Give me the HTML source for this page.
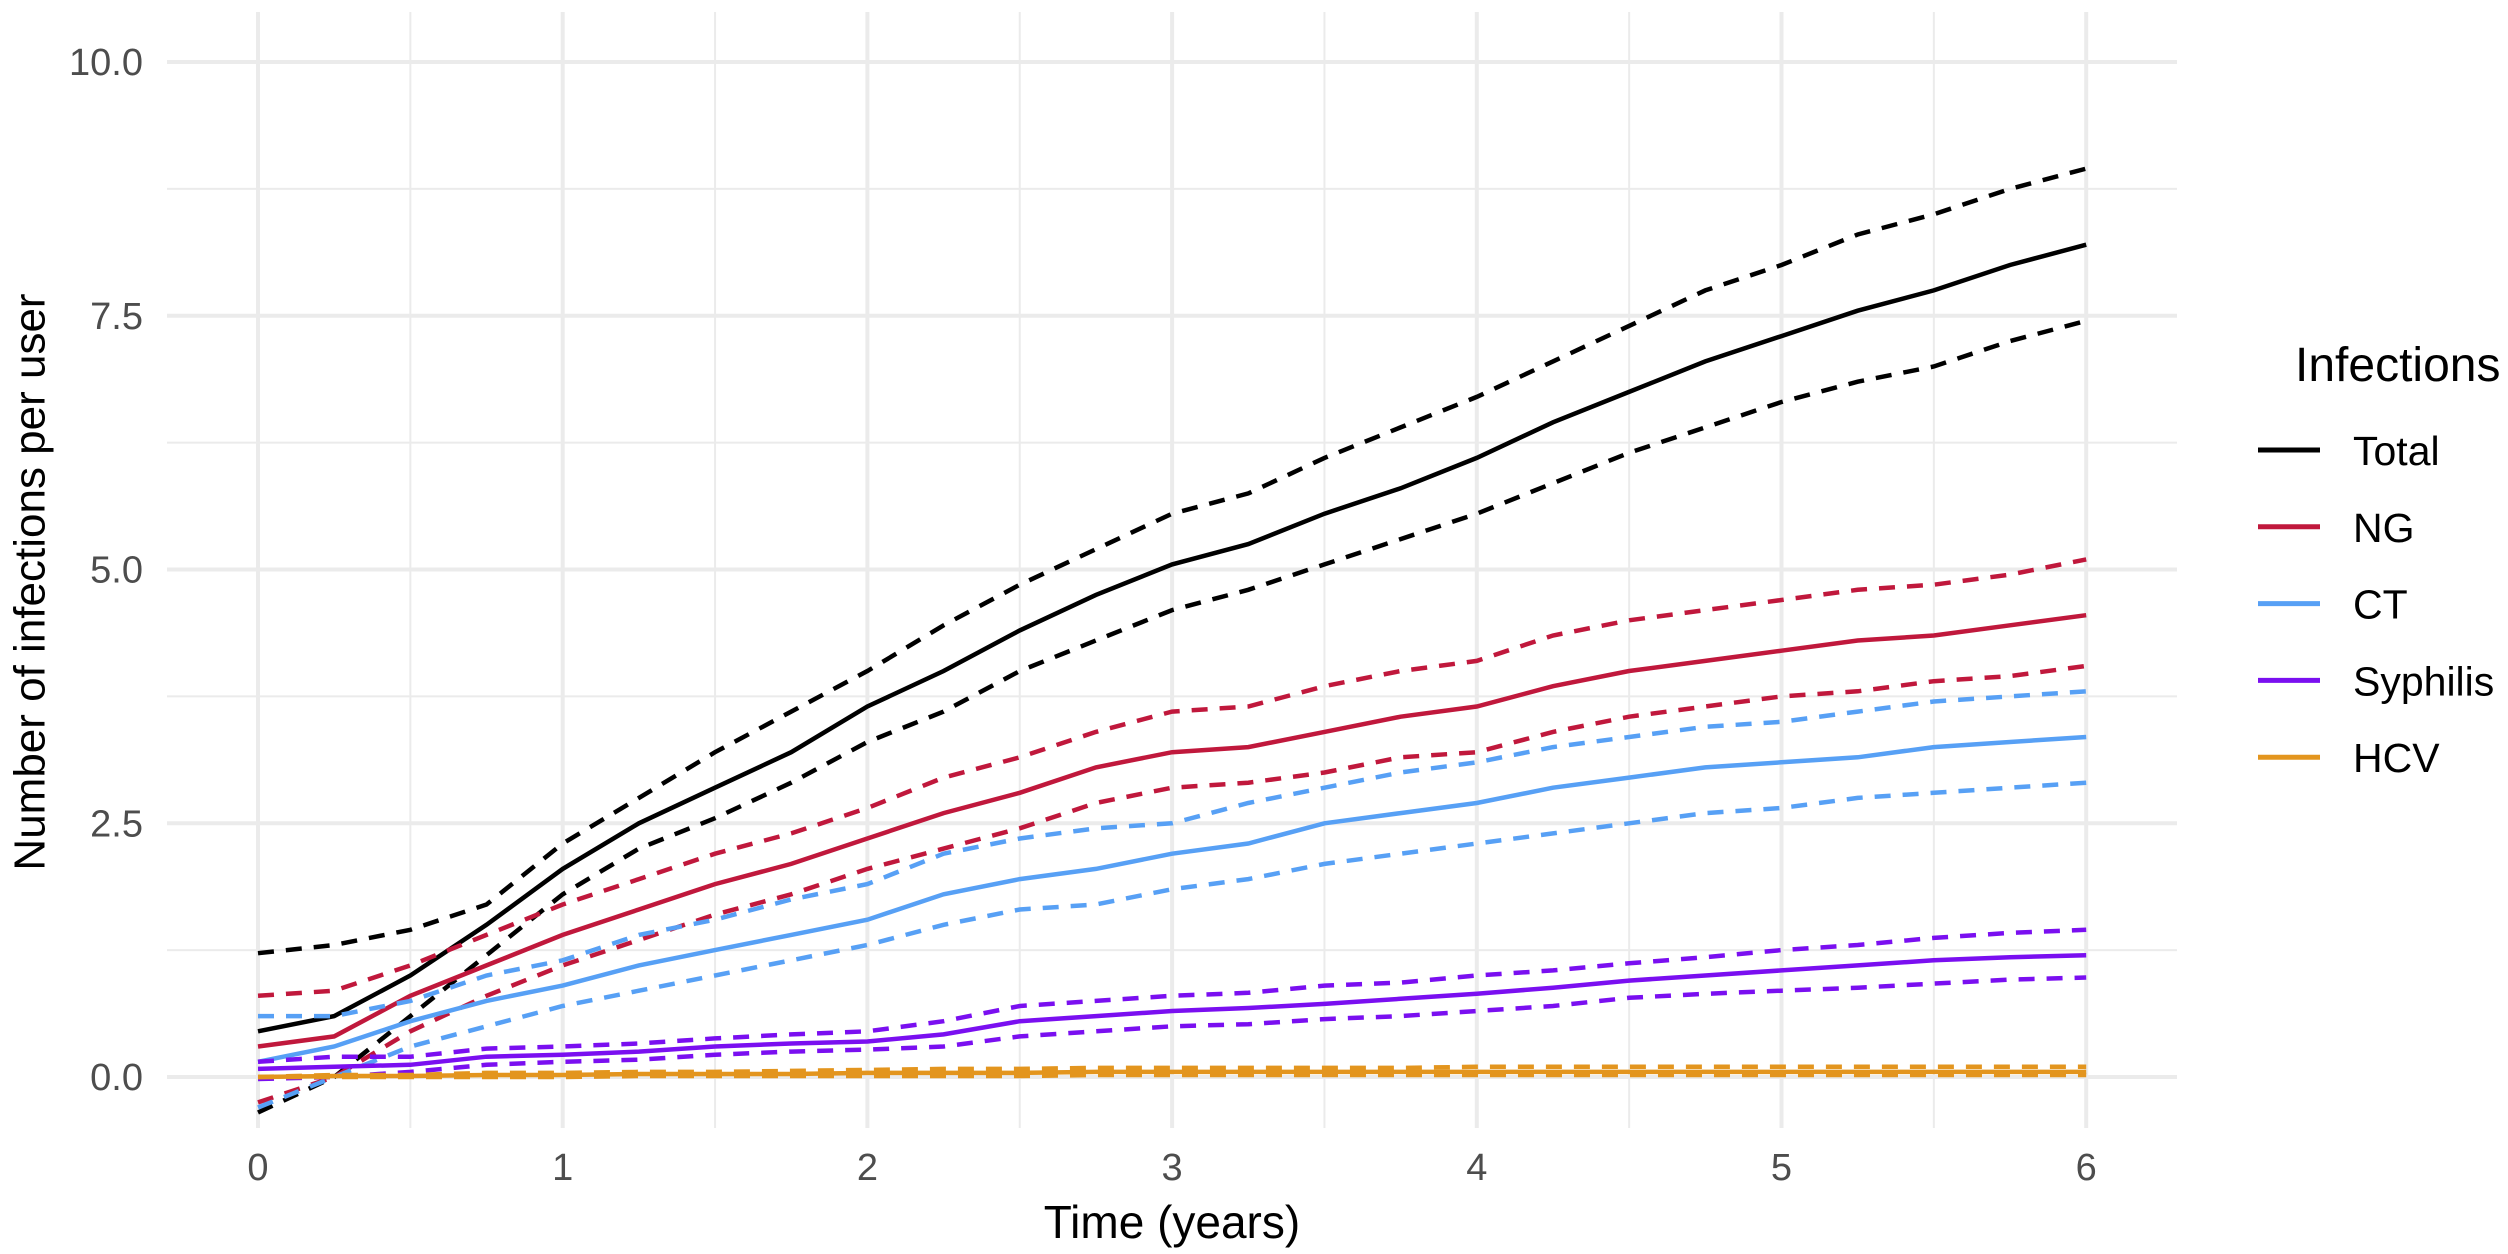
<!DOCTYPE html>
<html><head><meta charset="utf-8"><style>
html,body{margin:0;padding:0;background:#fff;}
svg{display:block;font-family:"Liberation Sans",Arial,sans-serif;}
</style></head><body>
<svg id="chart" width="2508" height="1254" viewBox="0 0 2508 1254" xmlns="http://www.w3.org/2000/svg">
<rect x="0" y="0" width="2508" height="1254" fill="#fff"/>
<g id="grid"></g>
<g id="series"></g>
<g id="axes"></g>
<text x="30" y="582" transform="rotate(-90 30 582)" text-anchor="middle" dominant-baseline="central" font-size="44" fill="#000">Number of infections per user</text>
<text x="1172" y="1238" text-anchor="middle" font-size="46" fill="#000">Time (years)</text>
<g id="legend">
<text x="2295" y="381" font-size="48" fill="#000">Infections</text>
</g>
</svg>
<script>
const times=[0,0.25,0.5,0.75,1,1.25,1.5,1.75,2,2.25,2.5,2.75,3,3.25,3.5,3.75,4,4.25,4.5,4.75,5,5.25,5.5,5.75,6];
const totalMean=[0.45,0.6,1.0,1.5,2.05,2.5,2.85,3.2,3.65,4.0,4.4,4.75,5.05,5.25,5.55,5.8,6.1,6.45,6.75,7.05,7.3,7.55,7.75,8.0,8.2];
const totalUpper=[1.22,1.3,1.45,1.7,2.3,2.75,3.2,3.6,4.0,4.45,4.85,5.2,5.55,5.75,6.1,6.4,6.7,7.05,7.4,7.75,8.0,8.3,8.5,8.75,8.95];
const totalLower=[-0.35,0.0,0.6,1.2,1.8,2.25,2.55,2.9,3.3,3.6,4.0,4.3,4.6,4.8,5.05,5.3,5.55,5.85,6.15,6.4,6.65,6.85,7.0,7.25,7.45];
const ngMean=[0.3,0.4,0.8,1.1,1.4,1.65,1.9,2.1,2.35,2.6,2.8,3.05,3.2,3.25,3.4,3.55,3.65,3.85,4.0,4.1,4.2,4.3,4.35,4.45,4.55];
const ngUpper=[0.8,0.85,1.1,1.4,1.7,1.95,2.2,2.4,2.65,2.95,3.15,3.4,3.6,3.65,3.85,4.0,4.1,4.35,4.5,4.6,4.7,4.8,4.85,4.95,5.1];
const ngLower=[-0.25,0.0,0.45,0.8,1.1,1.35,1.6,1.8,2.05,2.25,2.45,2.7,2.85,2.9,3.0,3.15,3.2,3.4,3.55,3.65,3.75,3.8,3.9,3.95,4.05];
const ctMean=[0.15,0.3,0.55,0.75,0.9,1.1,1.25,1.4,1.55,1.8,1.95,2.05,2.2,2.3,2.5,2.6,2.7,2.85,2.95,3.05,3.1,3.15,3.25,3.3,3.35];
const ctUpper=[0.6,0.6,0.75,1.0,1.15,1.4,1.55,1.75,1.9,2.2,2.35,2.45,2.5,2.7,2.85,3.0,3.1,3.25,3.35,3.45,3.5,3.6,3.7,3.75,3.8];
const ctLower=[-0.3,0.0,0.3,0.5,0.7,0.85,1.0,1.15,1.3,1.5,1.65,1.7,1.85,1.95,2.1,2.2,2.3,2.4,2.5,2.6,2.65,2.75,2.8,2.85,2.9];
const syMean=[0.08,0.1,0.12,0.2,0.22,0.25,0.3,0.33,0.35,0.42,0.55,0.6,0.65,0.68,0.72,0.77,0.82,0.88,0.95,1.0,1.05,1.1,1.15,1.18,1.2];
const syUpper=[0.15,0.2,0.2,0.28,0.3,0.33,0.38,0.42,0.45,0.55,0.7,0.75,0.8,0.83,0.9,0.93,1.0,1.05,1.12,1.18,1.25,1.3,1.37,1.42,1.45];
const syLower=[-0.02,0.0,0.05,0.12,0.15,0.17,0.22,0.25,0.27,0.3,0.4,0.45,0.5,0.52,0.57,0.6,0.65,0.7,0.78,0.82,0.85,0.88,0.92,0.96,0.98];
const hcvMean=[0.0,0.01,0.01,0.02,0.02,0.03,0.03,0.03,0.04,0.04,0.04,0.05,0.05,0.05,0.05,0.05,0.05,0.05,0.05,0.05,0.05,0.05,0.05,0.05,0.05];
const hcvUpper=[0.0,0.02,0.02,0.04,0.04,0.05,0.05,0.06,0.07,0.08,0.08,0.09,0.09,0.09,0.09,0.09,0.1,0.1,0.1,0.1,0.1,0.1,0.1,0.1,0.1];
const hcvLower=[0.0,0.0,0.0,0.0,0.0,0.01,0.01,0.01,0.01,0.01,0.01,0.02,0.02,0.02,0.02,0.02,0.02,0.02,0.02,0.02,0.02,0.02,0.02,0.02,0.02];
const xTicks=[0,1,2,3,4,5,6];
const yTicks=[0,2.5,5,7.5,10];
const yTickLabels=["0.0","2.5","5.0","7.5","10.0"];
const legendLabels=["Total","NG","CT","Syphilis","HCV"];

const NS="http://www.w3.org/2000/svg";
const X0=258, XS=304.7, Y0=1077, YS=101.5;
const PL=167, PR=2177, PT=12, PB=1128;
function sx(v){return X0+v*XS;}
function sy(v){return Y0-v*YS;}
function mk(tag,attrs,parent){const e=document.createElementNS(NS,tag);for(const k in attrs)e.setAttribute(k,attrs[k]);parent.appendChild(e);return e;}
const grid=document.getElementById('grid'),axes=document.getElementById('axes'),series=document.getElementById('series'),legend=document.getElementById('legend');
for(let v=0.5;v<6;v+=1){const l=mk('line',{x1:sx(v),x2:sx(v),y1:PT,y2:PB,stroke:'#ebebeb','stroke-width':2},grid);

}
for(let v=1.25;v<10;v+=2.5){const l=mk('line',{x1:PL,x2:PR,y1:sy(v),y2:sy(v),stroke:'#ebebeb','stroke-width':2},grid);

}
xTicks.forEach(v=>{const l=mk('line',{x1:sx(v),x2:sx(v),y1:PT,y2:PB,stroke:'#ebebeb','stroke-width':4},grid);


const t=mk('text',{x:sx(v),y:1180,'text-anchor':'middle','font-size':38,fill:'#4d4d4d'},axes);t.textContent=v;

});
yTicks.forEach((v,i)=>{const l=mk('line',{x1:PL,x2:PR,y1:sy(v),y2:sy(v),stroke:'#ebebeb','stroke-width':4},grid);


const t=mk('text',{x:143,y:sy(v)+13,'text-anchor':'end','font-size':38,fill:'#4d4d4d'},axes);t.textContent=yTickLabels[i];

});
const groups=[
 ['total','#000000',totalMean,totalUpper,totalLower],
 ['ng','#c0183c',ngMean,ngUpper,ngLower],
 ['ct','#57a0f5',ctMean,ctUpper,ctLower],
 ['syphilis','#7a0ff0',syMean,syUpper,syLower],
 ['hcv','#e3951e',hcvMean,hcvUpper,hcvLower]];
function pts(arr){return arr.map((v,i)=>sx(times[i]).toFixed(1)+','+sy(v).toFixed(1)).join(' ');}
groups.forEach(g=>{
 [[g[3],'upper'],[g[4],'lower']].forEach(b=>{const p=mk('polyline',{points:pts(b[0]),fill:'none',stroke:g[1],'stroke-width':4.5,'stroke-dasharray':'16,12'},series);
 
 });
 const p=mk('polyline',{points:pts(g[2]),fill:'none',stroke:g[1],'stroke-width':4.5},series);
 
 
});
legendLabels.forEach((lab,i)=>{const y=450+i*76.8;
 const l=mk('line',{x1:2258,x2:2320,y1:y,y2:y,stroke:groups[i][1],'stroke-width':5},legend);
 
 
 const t=mk('text',{x:2353,y:y+15,'font-size':41,fill:'#000'},legend);t.textContent=lab;
 
 
});
</script>
</body></html>
